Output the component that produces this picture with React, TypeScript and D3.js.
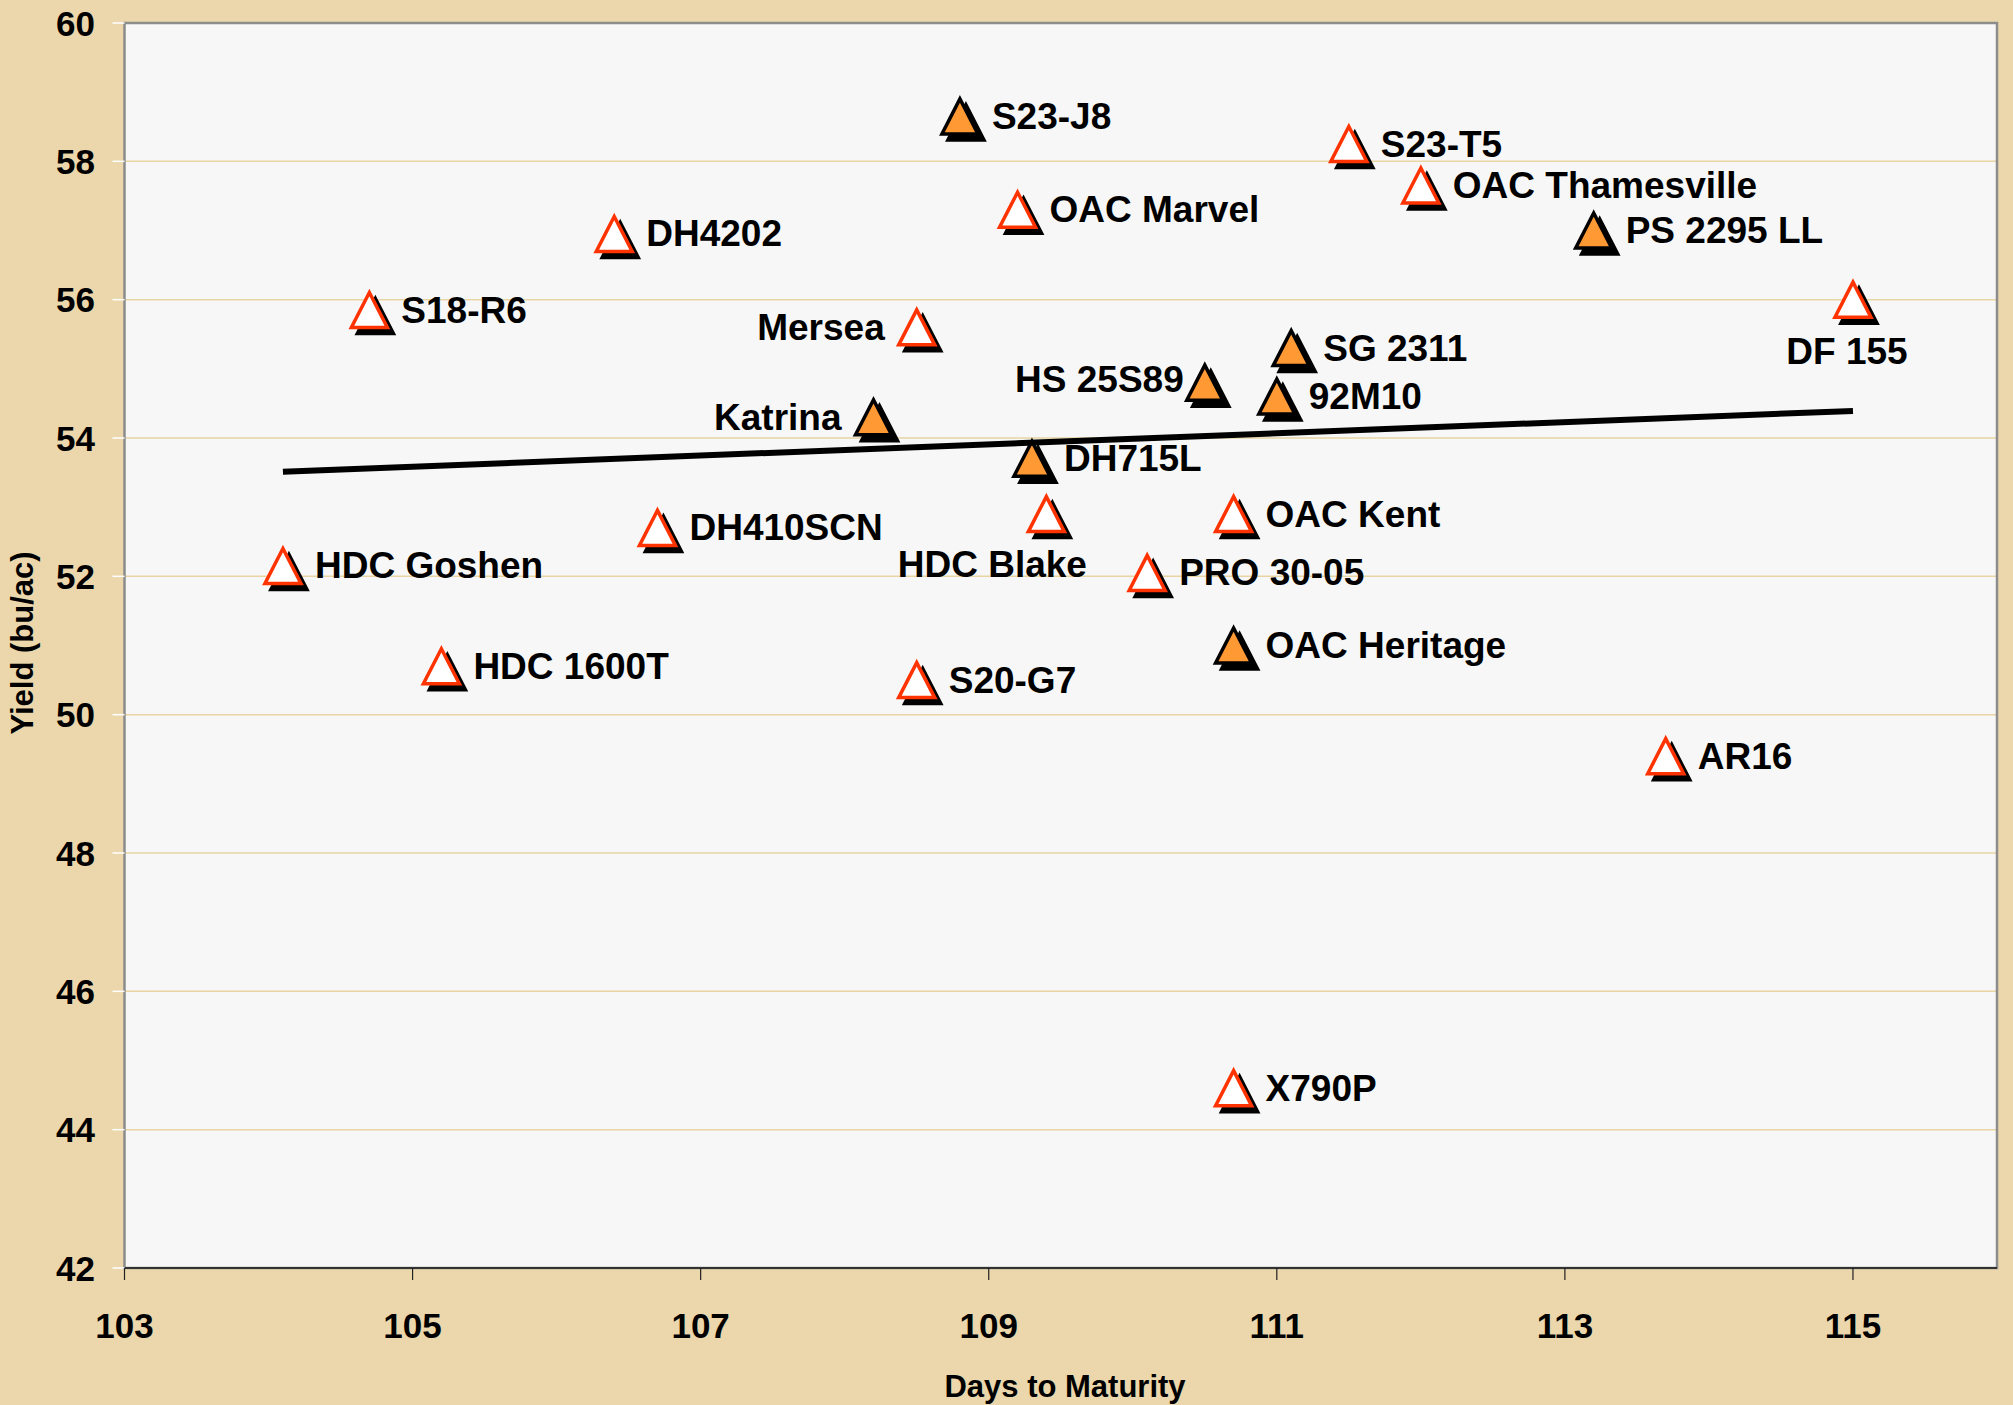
import React from "react";
import * as d3 from "d3";

const varieties = [
  "S23-J8", "S23-T5", "OAC Thamesville", "OAC Marvel", "PS 2295 LL", "DH4202",
  "S18-R6", "DF 155", "Mersea", "SG 2311", "HS 25S89", "92M10",
  "Katrina", "DH715L", "HDC Blake", "OAC Kent", "DH410SCN", "HDC Goshen",
  "PRO 30-05", "OAC Heritage", "HDC 1600T", "S20-G7", "AR16", "X790P",
];
const daysToMaturity = [
  108.8, 111.5, 112.0, 109.2, 113.2, 106.4,
  104.7, 115.0, 108.5, 111.1, 110.5, 111.0,
  108.2, 109.3, 109.4, 110.7, 106.7, 104.1,
  110.1, 110.7, 105.2, 108.5, 113.7, 110.7,
];
const yieldBuAc = [
  58.65, 58.25, 57.65, 57.3, 57.0, 56.95,
  55.85, 56.0, 55.6, 55.3, 54.8, 54.6,
  54.3, 53.7, 52.9, 52.9, 52.7, 52.15,
  52.05, 51.0, 50.7, 50.5, 49.4, 44.6,
];
const isFilled = [
  true, false, false, false, true, false,
  false, false, false, true, true, true,
  true, true, false, false, false, false,
  false, true, false, false, false, false,
];
const xTicks = [103, 105, 107, 109, 111, 113, 115];
const yTicks = [42, 44, 46, 48, 50, 52, 54, 56, 58, 60];
const xDomain = [103, 116];
const yDomain = [42, 60];
const xTitle = "Days to Maturity";
const yTitle = "Yield (bu/ac)";

const W = 2013;
const H = 1405;
const plot = { left: 124.5, right: 1997, top: 23, bottom: 1268 };

const BG = "#EBD7AB";
const PLOT_BG = "#F7F7F7";
const GRID = "#E9D4A4";
const ORANGE = "#FF9933";
const RED = "#FF3300";
const FONT = "'Liberation Sans', Arial, sans-serif";

type Place = { anchor: "start" | "end" | "middle"; dx: number; dy: number };
const placeFor = (name: string): Place => {
  switch (name) {
    case "Mersea":
    case "Katrina":
      return { anchor: "end", dx: -32, dy: 0 };
    case "HS 25S89":
      return { anchor: "end", dx: -21, dy: -3 };
    case "DF 155":
      return { anchor: "middle", dx: -6, dy: 52 };
    case "HDC Blake":
      return { anchor: "middle", dx: -54, dy: 50 };
    default:
      return { anchor: "start", dx: 32, dy: 0 };
  }
};

export default function App() {
  const x = d3.scaleLinear().domain(xDomain).range([plot.left, plot.right]);
  const y = d3.scaleLinear().domain(yDomain).range([plot.bottom, plot.top]);

  const pts = varieties.map((name, i) => ({
    name,
    d: daysToMaturity[i],
    v: yieldBuAc[i],
    filled: isFilled[i],
  }));

  // linear regression trendline
  const mx = d3.mean(daysToMaturity) as number;
  const my = d3.mean(yieldBuAc) as number;
  let sxy = 0;
  let sxx = 0;
  daysToMaturity.forEach((dv, i) => {
    sxy += (dv - mx) * (yieldBuAc[i] - my);
    sxx += (dv - mx) * (dv - mx);
  });
  const slope = sxy / sxx;
  const intercept = my - slope * mx;
  const [xmin, xmax] = d3.extent(daysToMaturity) as [number, number];
  const trend = d3
    .line<number>()
    .x((d) => x(d))
    .y((d) => y(intercept + slope * d))([xmin, xmax]) as string;

  const hw = 18;
  const hh = 17.5;
  const triPath = `M0,${-hh}L${hw},${hh}L${-hw},${hh}Z`;

  return (
    <svg
      width={W}
      height={H}
      style={{ position: "absolute", left: 0, top: 0, display: "block" }}
      fontFamily={FONT}
    >
      <rect x={0} y={0} width={W} height={H} fill={BG} />
      <rect
        x={plot.left}
        y={plot.top}
        width={plot.right - plot.left}
        height={plot.bottom - plot.top}
        fill={PLOT_BG}
      />
      {yTicks
        .filter((t) => t !== yDomain[0] && t !== yDomain[1])
        .map((t) => (
          <line
            key={"g" + t}
            x1={plot.left}
            x2={plot.right}
            y1={y(t)}
            y2={y(t)}
            stroke={GRID}
            strokeWidth={1.5}
          />
        ))}
      <rect
        x={plot.left}
        y={plot.top}
        width={plot.right - plot.left}
        height={plot.bottom - plot.top}
        fill="none"
        stroke="#8C8C8C"
        strokeWidth={2.5}
      />
      <line
        x1={plot.left}
        x2={plot.right}
        y1={plot.bottom}
        y2={plot.bottom}
        stroke="#333"
        strokeWidth={2}
      />
      {yTicks.map((t) => (
        <g key={"yt" + t}>
          <line x1={plot.left - 12} x2={plot.left} y1={y(t)} y2={y(t)} stroke="#FFFFFF" strokeWidth={1.5} />
          <text
            x={95}
            y={y(t) + 12.5}
            textAnchor="end"
            fontSize={35}
            fontWeight="bold"
            fill="#000"
          >
            {t}
          </text>
        </g>
      ))}
      {xTicks.map((t) => (
        <g key={"xt" + t}>
          <line x1={x(t)} x2={x(t)} y1={plot.bottom} y2={plot.bottom + 12} stroke="#222" strokeWidth={1.2} />
          <text
            x={x(t)}
            y={1338}
            textAnchor="middle"
            fontSize={35}
            fontWeight="bold"
            fill="#000"
          >
            {t}
          </text>
        </g>
      ))}
      <text
        x={1065}
        y={1397}
        textAnchor="middle"
        fontSize={31}
        fontWeight="bold"
        fill="#000"
      >
        {xTitle}
      </text>
      <text
        transform={`translate(33,643) rotate(-90)`}
        textAnchor="middle"
        fontSize={31}
        fontWeight="bold"
        fill="#000"
      >
        {yTitle}
      </text>

      {pts.map((p) => (
        <g key={"m" + p.name} transform={`translate(${x(p.d)},${y(p.v)})`}>
          <path d={triPath} transform="translate(6,6)" fill="#000" stroke="#000" strokeWidth={3.5} strokeLinejoin="miter" />
          <path
            d={triPath}
            fill={p.filled ? ORANGE : "#FFFFFF"}
            stroke={p.filled ? "#000" : RED}
            strokeWidth={3.5}
            strokeLinejoin="miter"
          />
        </g>
      ))}

      <path d={trend} fill="none" stroke="#000" strokeWidth={6} />

      {pts.map((p) => {
        const pl = placeFor(p.name);
        return (
          <text
            key={"l" + p.name}
            x={x(p.d) + pl.dx}
            y={y(p.v) + pl.dy + 12.5}
            textAnchor={pl.anchor}
            fontSize={37}
            fontWeight="bold"
            fill="#000"
          >
            {p.name}
          </text>
        );
      })}
    </svg>
  );
}
